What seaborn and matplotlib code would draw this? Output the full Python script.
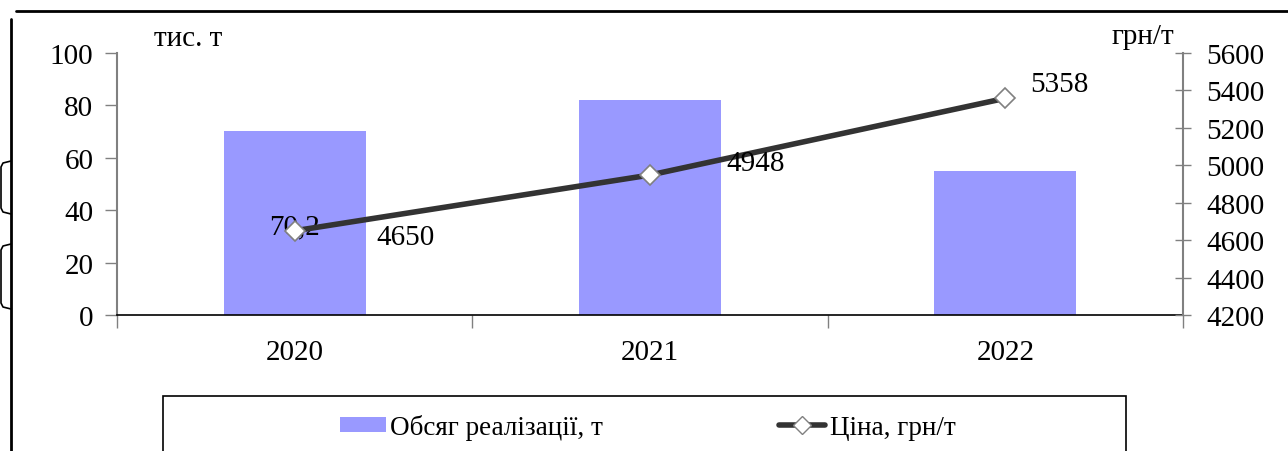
import matplotlib
matplotlib.use("Agg")
import matplotlib.pyplot as plt
import seaborn as sns
import numpy as np
import pandas as pd
from matplotlib.patches import Rectangle, Patch
from matplotlib.lines import Line2D

# ---- data ----
years = ["2020", "2021", "2022"]
volume = [70.2, 82.1, 55.0]           # тис. т
price = [4650, 4948, 5358]            # грн/т
volume_labels = ["70,2", "", ""]
price_labels = ["4650", "4948", "5358"]

sns.set_theme(style="white")
plt.rcParams["font.family"] = ["Liberation Serif", "DejaVu Serif"]
plt.rcParams["text.color"] = "black"
plt.rcParams["legend.labelcolor"] = "black"

W, H = 1288, 452
fig = plt.figure(figsize=(W / 100, H / 100), dpi=100)

def fx(px):
    return px / W

def fy(py):
    return 1 - py / H

ax = fig.add_axes([fx(117), fy(316), fx(1183) - fx(117), fy(54) - fy(316)])

df = pd.DataFrame({"year": years, "volume": volume, "price": price})
sns.barplot(data=df, x="year", y="volume", ax=ax, color="#9999FF",
            saturation=1, width=0.4, edgecolor="none")
ax.set_ylim(0, 100)
ax.set_xlim(-0.5, len(years) - 0.5)
ax.set_yticks(np.arange(0, 101, 20))
ax.set_xlabel("")
ax.set_ylabel("")
ax.tick_params(axis="y", labelsize=21, length=9, width=1, color="#808080",
               direction="out", left=True, pad=8, labelcolor="black")
ax.set_xticks(range(len(years)))
ax.set_xticklabels(years)
ax.tick_params(axis="x", which="major", length=0, labelsize=21, pad=17,
               labelcolor="black")
ax.set_xticks(np.arange(-0.5, len(years), 1.0), minor=True)
ax.tick_params(axis="x", which="minor", length=9, width=1, color="#808080",
               direction="out", bottom=True)
for s in ["top", "right"]:
    ax.spines[s].set_visible(False)
ax.spines["left"].set_color("#808080")
ax.spines["left"].set_linewidth(1.5)
ax.spines["bottom"].set_color("black")
ax.spines["bottom"].set_linewidth(1.2)
ax.grid(False)

# bar labels (centered)
for i, (v, lab) in enumerate(zip(volume, volume_labels)):
    if lab:
        ax.annotate(lab, (i, v / 2), xytext=(0, -3), textcoords="offset pixels",
                    ha="center", va="center", fontsize=21, color="black", zorder=10)

ax2 = ax.twinx()
xpos = np.arange(len(years))
sns.lineplot(x=xpos, y=price, ax=ax2, color="#333333", linewidth=4,
             marker="D", markersize=10, markerfacecolor="white",
             markeredgecolor="#808080", markeredgewidth=1.2)
ax2.set_ylim(4200, 5600)
ax2.set_yticks(np.arange(4200, 5601, 200))
ax2.tick_params(axis="y", labelsize=21, length=11, width=1, color="#808080",
                direction="inout", right=True, pad=11, labelcolor="black")
ax2.set_xlim(-0.5, len(years) - 0.5)
for s in ["top", "left", "bottom"]:
    ax2.spines[s].set_visible(False)
ax2.spines["right"].set_color("#808080")
ax2.spines["right"].set_linewidth(1.5)
ax2.set_ylabel("")
ax2.grid(False)

label_offsets = [(111, -6), (106, 12), (54, 14)]
for i, (p, lab) in enumerate(zip(price, price_labels)):
    ax2.annotate(lab, (i, p), xytext=label_offsets[i], textcoords="offset pixels",
                 ha="center", va="center", fontsize=21, color="black", zorder=10)

# unit labels
fig.text(fx(188), fy(39), "тис. т", ha="center", va="center", fontsize=21, color="black")
fig.text(fx(1143), fy(37), "грн/т", ha="center", va="center", fontsize=21, color="black")

# legend box
fig.patches.append(Rectangle((fx(163), fy(470)), fx(1126) - fx(163), fy(397) - fy(470),
                             transform=fig.transFigure, fill=False, edgecolor="black",
                             linewidth=1.2))
handles = [Patch(facecolor="#9999FF", edgecolor="none"),
           Line2D([0], [0], color="#333333", linewidth=4, marker="D", markersize=9,
                  markerfacecolor="white", markeredgecolor="#808080")]
fig.legend(handles, ["Обсяг реалізації, т", "Ціна, грн/т"], loc="center left",
           bbox_to_anchor=(fx(316), fy(428)), ncol=2, frameon=False, fontsize=19.5,
           handlelength=1.7, handleheight=0.5, handletextpad=0.15, columnspacing=6.5,
           labelcolor="black")

# outer frame of the scanned figure
fig.add_artist(Line2D([fx(11), fx(11)], [fy(20), fy(452)], transform=fig.transFigure,
                      color="black", linewidth=2))
fig.add_artist(Line2D([fx(16), fx(1288)], [fy(12), fy(12)], transform=fig.transFigure,
                      color="black", linewidth=2))
# brackets on the left edge
for y0, y1 in [(162, 215), (245, 310)]:
    fig.add_artist(Line2D([fx(11), fx(3), fx(1), fx(1), fx(3), fx(11)],
                          [fy(y0), fy(y0 + 2), fy(y0 + 6), fy(y1 - 6), fy(y1 - 2), fy(y1)],
                          transform=fig.transFigure, color="black", linewidth=1.2))

fig.savefig("out.png", dpi=100)
